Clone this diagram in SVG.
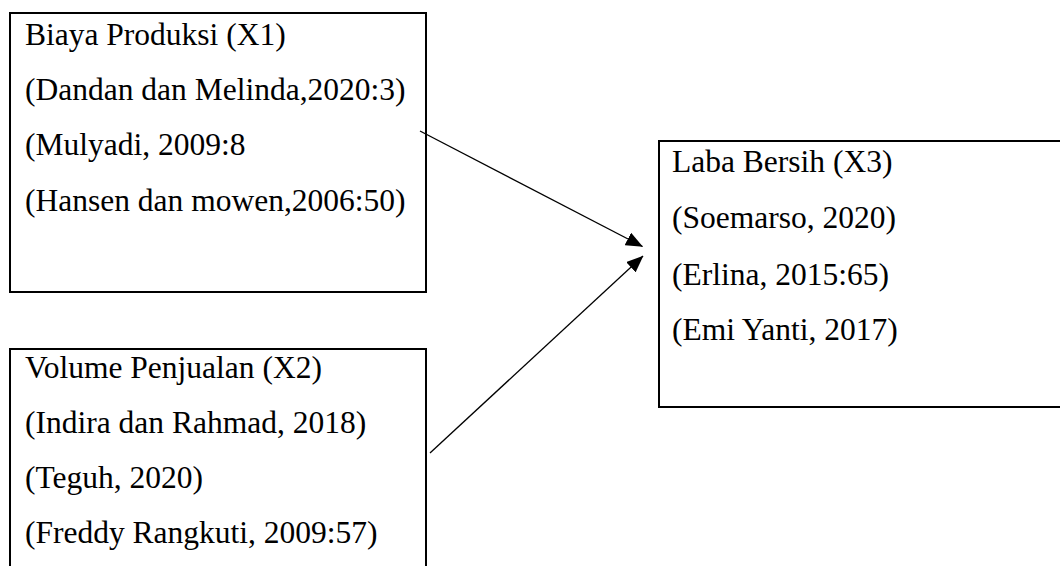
<svg xmlns="http://www.w3.org/2000/svg" width="1060" height="566" viewBox="0 0 1060 566">
<style>
.box{fill:#fff;stroke:#000;stroke-width:2}
.t{font-family:"Liberation Serif","Times New Roman",serif;font-size:31.5px;fill:#000}
.c{stroke:#000;stroke-width:1.3;fill:none}
</style>
<defs>
<marker id="ah" markerUnits="userSpaceOnUse" markerWidth="17" markerHeight="14" viewBox="0 0 17 14" refX="16.5" refY="7" orient="auto">
<path d="M0,0 L17,7 L0,14 Z" fill="#000"/>
</marker>
</defs>
<rect width="1060" height="566" fill="#fff"/>
<g id="x1">
<rect class="box" x="10" y="13" width="416" height="279"/>
<text class="t" x="25" y="45">Biaya Produksi (X1)</text>
<text class="t" x="25" y="100">(Dandan dan Melinda,2020:3)</text>
<text class="t" x="25" y="155">(Mulyadi, 2009:8</text>
<text class="t" x="25" y="211">(Hansen dan mowen,2006:50)</text>
</g>
<g id="x2">
<rect class="box" x="10" y="349" width="416" height="240"/>
<text class="t" x="25" y="378">Volume Penjualan (X2)</text>
<text class="t" x="25" y="433">(Indira dan Rahmad, 2018)</text>
<text class="t" x="25" y="488">(Teguh, 2020)</text>
<text class="t" x="25" y="543">(Freddy Rangkuti, 2009:57)</text>
</g>
<g id="x3">
<rect class="box" x="659" y="141" width="420" height="266"/>
<text class="t" x="672" y="172">Laba Bersih (X3)</text>
<text class="t" x="672" y="228">(Soemarso, 2020)</text>
<text class="t" x="672" y="285">(Erlina, 2015:65)</text>
<text class="t" x="672" y="340">(Emi Yanti, 2017)</text>
</g>
<g id="connectors">
<line class="c" x1="420" y1="131" x2="642.5" y2="246.5" marker-end="url(#ah)"/>
<line class="c" x1="430" y1="453" x2="643" y2="256" marker-end="url(#ah)"/>
</g>
</svg>
